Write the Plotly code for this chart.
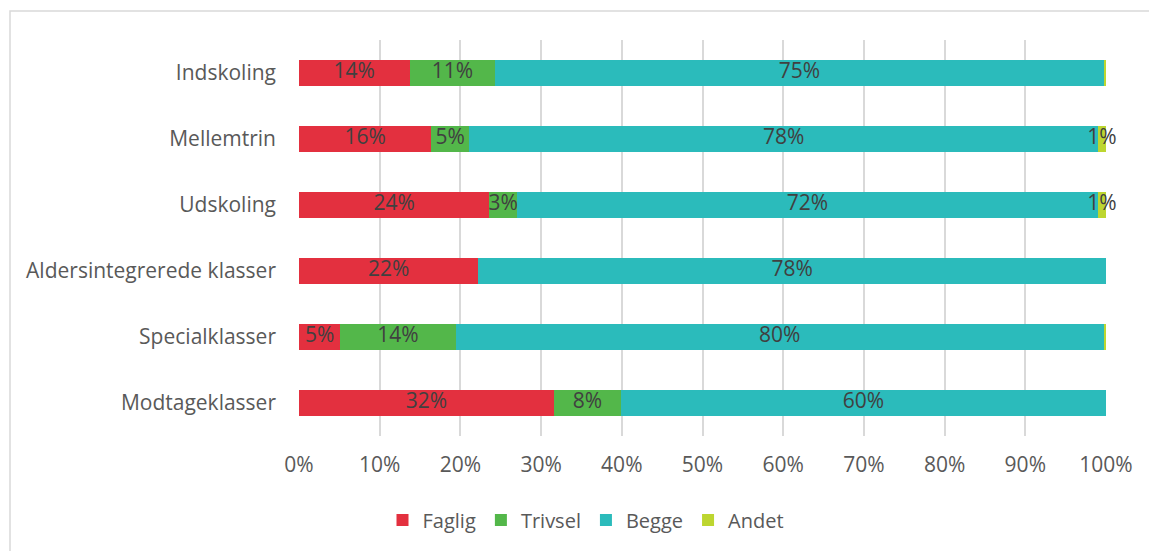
import plotly.graph_objects as go

categories = ["Indskoling", "Mellemtrin", "Udskoling", "Aldersintegrerede klasser", "Specialklasser", "Modtageklasser"]
faglig = [13.7, 16.4, 23.6, 22.2, 5.1, 31.6]
trivsel = [10.6, 4.7, 3.4, 0.0, 14.3, 8.3]
begge = [75.4, 77.9, 72.0, 77.8, 80.3, 60.1]
andet = [0.3, 1.0, 1.0, 0.0, 0.3, 0.0]
series_names = ["Faglig", "Trivsel", "Begge", "Andet"]
colors = ["#E3303F", "#53B74A", "#2BBBBB", "#BDD630"]
tick_vals = [0, 10, 20, 30, 40, 50, 60, 70, 80, 90, 100]
tick_text = ["0%", "10%", "20%", "30%", "40%", "50%", "60%", "70%", "80%", "90%", "100%"]

W, H = 1149, 551
L, R, T, B = 299, 1106, 40, 436
FONT = "Open Sans"

fig = go.Figure()
series = [faglig, trivsel, begge, andet]
for name, vals, col in zip(series_names, series, colors):
    fig.add_trace(go.Bar(
        y=categories, x=vals, name=name, orientation="h",
        marker=dict(color=col, line=dict(width=0)),
        hoverinfo="x+name",
    ))

# data labels centred on each segment
base = [0.0] * len(categories)
for name, vals in zip(series_names, series):
    mids, texts = [], []
    for i, v in enumerate(vals):
        mids.append(base[i] + v / 2)
        texts.append(f"{round(v)}%" if v >= 0.5 else "")
        base[i] += v
    fig.add_trace(go.Scatter(
        y=categories, x=mids, text=texts, mode="text",
        textposition="middle center", showlegend=False, hoverinfo="skip",
        textfont=dict(family=FONT, size=21, color="#404040"),
        cliponaxis=False,
    ))

fig.update_layout(
    barmode="stack", bargap=0.6,
    width=W, height=H,
    margin=dict(l=L, r=W - R, t=T, b=H - B, autoexpand=False),
    paper_bgcolor="white", plot_bgcolor="white",
    font=dict(family=FONT, color="#595959", size=20),
    xaxis=dict(range=[0, 100], tickvals=tick_vals, ticktext=tick_text,
               showgrid=True, gridcolor="#D9D9D9", gridwidth=2, zeroline=False,
               showline=False, ticks="", tickfont=dict(family=FONT, size=21, color="#595959"),
               ticklabelstandoff=14, fixedrange=True),
    yaxis=dict(autorange="reversed", showgrid=False, showline=False, ticks="",
               tickfont=dict(family=FONT, size=21, color="#595959"), ticklabelstandoff=22),
    legend=dict(orientation="h", x=(586 - L) / (R - L), xanchor="center",
                y=(B - 520) / (B - T), yanchor="middle",
                font=dict(family=FONT, size=20, color="#595959"), traceorder="normal"),
    shapes=[dict(type="rect", xref="paper", yref="paper",
                 x0=(10 - L) / (R - L), x1=(1160 - L) / (R - L),
                 y0=(B - 560) / (B - T), y1=(B - 11) / (B - T),
                 line=dict(color="#D9D9D9", width=1.5), layer="below")],
)

fig.write_html("out.html", config={"displayModeBar": False},
               post_script="document.body.style.margin='0';")
